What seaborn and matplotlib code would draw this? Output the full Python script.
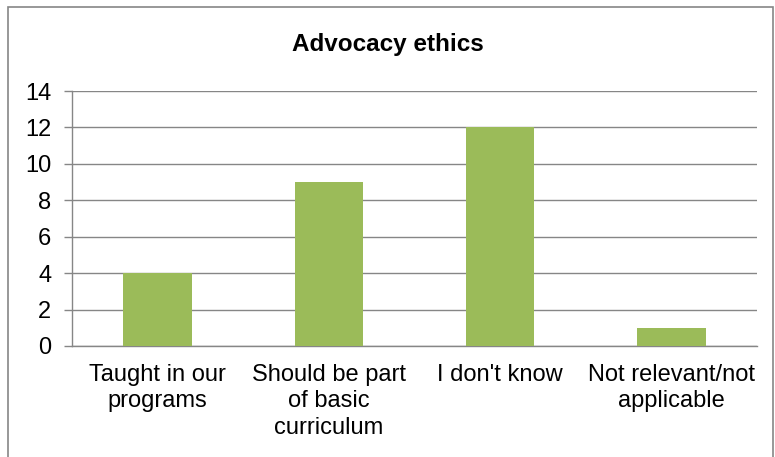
import matplotlib
matplotlib.use('Agg')
import matplotlib.pyplot as plt
import matplotlib.patches as mpatches
import seaborn as sns
import pandas as pd

categories = ["Taught in our\nprograms", "Should be part\nof basic\ncurriculum",
              "I don't know", "Not relevant/not\napplicable"]
counts = [4, 9, 12, 1]
yticks = [0, 2, 4, 6, 8, 10, 12, 14]

df = pd.DataFrame({'cat': categories, 'n': counts})

sns.set_style('white')
plt.rcParams['font.family'] = ['Liberation Sans', 'DejaVu Sans']
plt.rcParams['text.color'] = 'black'
plt.rcParams['xtick.labelcolor'] = 'black'
plt.rcParams['ytick.labelcolor'] = 'black'

W, H = 775, 457
fig = plt.figure(figsize=(W / 100, H / 100), dpi=100)
ax = fig.add_axes([72 / W, 1 - 346 / H, (757 - 72) / W, (346 - 91) / H])

grey = '#868686'
sns.barplot(data=df, x='cat', y='n', color='#9BBB59', width=0.4, saturation=1,
            linewidth=0, ax=ax, zorder=3)

ax.set_ylim(0, 14)
ax.set_xlim(-0.5, 3.5)
ax.set_yticks(yticks)
ax.set_yticklabels([str(t) for t in yticks], fontsize=17, color='black')
ax.yaxis.grid(True, color=grey, linewidth=1)
ax.set_axisbelow(True)
ax.set_xlabel('')
ax.set_ylabel('')

# category labels between boundary ticks
ax.set_xticks([0, 1, 2, 3])
ax.set_xticklabels(categories, fontsize=17, va='top', linespacing=1.25, color='black')
ax.tick_params(axis='x', length=0, pad=13)
ax.set_xticks([-0.5, 0.5, 1.5, 2.5, 3.5], minor=True)
ax.tick_params(axis='x', which='minor', length=6, color=grey, width=1)
ax.tick_params(axis='y', length=6, color=grey, width=1, pad=9, left=True)

for s in ['top', 'right']:
    ax.spines[s].set_visible(False)
for s in ['left', 'bottom']:
    ax.spines[s].set_color(grey)
    ax.spines[s].set_linewidth(1)

fig.text(388 / W, 1 - 45 / H, 'Advocacy ethics', ha='center', va='center',
         fontsize=17.5, fontweight='bold', color='black')

frame = mpatches.Rectangle((8 / W, -0.05), 1 - 10 / W, 1.05 - 7 / H,
                           transform=fig.transFigure, fill=False,
                           edgecolor=grey, linewidth=1.2)
fig.patches.append(frame)

fig.savefig('out.png', dpi=100)
